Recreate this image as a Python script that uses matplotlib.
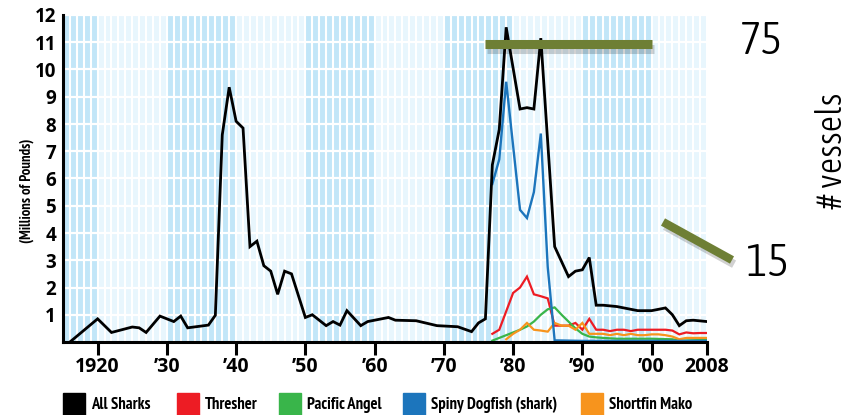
import matplotlib.pyplot as plt
import matplotlib.patheffects as pe
from matplotlib import font_manager
from matplotlib.font_manager import FontProperties
from matplotlib.patches import Rectangle
from matplotlib.lines import Line2D

fonts = font_manager.fontManager.ttflist
names = {f.name for f in fonts}
def pick(*fams):
    for f in fams:
        if f in names:
            return f
    return 'DejaVu Sans'

def wt(f):
    if isinstance(f.weight, int):
        return f.weight
    return font_manager.weight_dict.get(f.weight, 400)

# narrow faces (Arial Narrow like), picked by file so weight is exact
def narrow_face(target, size):
    cands = []
    for f in fonts:
        n = f.name + ' ' + f.fname
        if f.style != 'normal' or 'Extra' in n or 'Ultra' in n:
            continue
        if 'Narrow' in n or 'Condensed' in n or f.stretch in ('condensed', 'semi-condensed'):
            semi = 1 if ('Semi' in n or f.stretch == 'semi-condensed') else 0
            cands.append((abs(wt(f) - target), 0 if 'Narrow' in n else 1, semi, f.fname))
    if not cands:
        return FontProperties(family=pick('Liberation Sans'), weight=target, size=size * 0.88)
    cands.sort()
    return FontProperties(fname=cands[0][3], size=size)

boldf = pick('Open Sans', 'Lato', 'DejaVu Sans')

# ---- data (millions of pounds)
all_years = [1916, 1920, 1922, 1925, 1926, 1927, 1929, 1931, 1932, 1933, 1936, 1937, 1938, 1939,
             1940, 1941, 1942, 1943, 1944, 1945, 1946, 1947, 1948, 1950, 1951, 1953, 1954, 1955,
             1956, 1958, 1959, 1962, 1963, 1966, 1969, 1972, 1974, 1975, 1976, 1977, 1978, 1979,
             1981, 1982, 1983, 1984, 1986, 1988, 1989, 1990, 1991, 1992, 1993, 1995, 1998, 2000,
             2002, 2003, 2004, 2005, 2006, 2008]
all_sharks = [0.0, 0.85, 0.35, 0.55, 0.52, 0.35, 0.95, 0.75, 0.95, 0.52, 0.62, 0.98, 7.6, 9.35,
              8.1, 7.85, 3.5, 3.7, 2.8, 2.6, 1.75, 2.6, 2.5, 0.9, 1.0, 0.6, 0.75, 0.62,
              1.15, 0.6, 0.75, 0.9, 0.8, 0.78, 0.6, 0.56, 0.38, 0.7, 0.85, 6.5, 7.8, 11.55,
              8.55, 8.6, 8.55, 11.15, 3.5, 2.4, 2.6, 2.65, 3.1, 1.35, 1.35, 1.3, 1.15, 1.15,
              1.25, 1.0, 0.6, 0.78, 0.8, 0.75]

dog_years = [1977, 1978, 1979, 1981, 1982, 1983, 1984, 1985, 1986, 1990, 2000, 2008]
dogfish = [5.8, 6.7, 9.55, 4.85, 4.55, 5.5, 7.65, 2.75, 0.06, 0.04, 0.04, 0.04]

thr_years = [1977, 1978, 1980, 1981, 1982, 1983, 1984, 1985, 1986, 1987, 1988, 1989, 1990,
             1991, 1992, 1993, 1994, 1995, 1996, 1997, 1998, 1999, 2000, 2001, 2002, 2003,
             2004, 2005, 2006, 2007, 2008]
thresher = [0.3, 0.45, 1.8, 2.0, 2.4, 1.75, 1.68, 1.6, 0.6, 0.6, 0.6, 0.7, 0.45,
            0.85, 0.45, 0.45, 0.4, 0.45, 0.45, 0.4, 0.45, 0.45, 0.45, 0.45, 0.45, 0.42,
            0.28, 0.35, 0.32, 0.33, 0.33]

ang_years = [1977, 1978, 1979, 1980, 1981, 1982, 1983, 1984, 1985, 1986, 1987, 1988, 1989,
             1990, 1991, 1992, 1993, 1995, 2000, 2003, 2004, 2008]
angel = [0.05, 0.15, 0.25, 0.35, 0.45, 0.57, 0.75, 1.0, 1.2, 1.27, 1.0, 0.75, 0.5,
         0.3, 0.2, 0.17, 0.15, 0.12, 0.12, 0.1, 0.05, 0.08]

mako_years = [1979, 1980, 1981, 1982, 1983, 1984, 1985, 1986, 1987, 1988, 1989, 1990, 1991,
              1992, 1993, 1994, 1995, 1996, 1997, 1998, 1999, 2000, 2001, 2002, 2003, 2004,
              2005, 2006, 2007, 2008]
mako = [0.1, 0.3, 0.45, 0.7, 0.45, 0.42, 0.38, 0.7, 0.6, 0.6, 0.45, 0.7, 0.3,
        0.3, 0.3, 0.25, 0.3, 0.25, 0.3, 0.25, 0.25, 0.28, 0.28, 0.25, 0.2, 0.1,
        0.15, 0.15, 0.15, 0.15]

series_names = ['All Sharks', 'Thresher', 'Pacific Angel', 'Spiny Dogfish (shark)', 'Shortfin Mako']
series_colors = ['#000000', '#ed1c24', '#39b54a', '#1c75bc', '#f7941d']

tick_years = [1920, 1930, 1940, 1950, 1960, 1970, 1980, 1990, 2000, 2008]
tick_labels = ['1920', '\u201930', '\u201940', '\u201950', '\u201960', '\u201970', '\u201980',
               '\u201990', '\u201900', '2008']

# vessel markers
vessels_hi = 75
vessels_lo = 15
bar_years = [1975.9, 2000.1]
bar_level = 10.92

# ---------------------------------------------------------------
fig = plt.figure(figsize=(8.56, 4.15), dpi=100)
ax = fig.add_axes([63 / 856, 73 / 415, 644 / 856, 327 / 415])
ax.set_xlim(1915, 2008)
ax.set_ylim(0, 12)

# banded blue background
dark = '#c2e6f8'
light = '#e8f6fd'
edges = [1915, 1920, 1930, 1940, 1950, 1960, 1970, 1980, 1990, 2000, 2008]
for i in range(len(edges) - 1):
    ax.axvspan(edges[i], edges[i + 1], color=dark if i % 2 == 0 else light, lw=0, zorder=0)

ax.set_axisbelow(True)
ax.set_xticks(range(1915, 2009), minor=True)
ax.grid(which='minor', axis='x', color='white', lw=1.5)
ax.grid(which='major', axis='x', color='white', lw=1.5)
ax.grid(which='major', axis='y', color='white', lw=1.6)

# series
ax.plot(thr_years, thresher, color=series_colors[1], lw=1.6, solid_joinstyle='miter', zorder=3)
ax.plot(ang_years, angel, color=series_colors[2], lw=1.6, solid_joinstyle='miter', zorder=3)
ax.plot(mako_years, mako, color=series_colors[4], lw=1.6, solid_joinstyle='miter', zorder=3)
ax.plot(dog_years, dogfish, color=series_colors[3], lw=1.7, solid_joinstyle='miter', zorder=3)
ax.plot(all_years, all_sharks, color=series_colors[0], lw=2.0, solid_joinstyle='miter', zorder=4)

# olive vessel bar with shadow
olive = '#6e7f35'
shadow = [pe.SimpleLineShadow(offset=(1.5, -3), shadow_color='k', alpha=0.18), pe.Normal()]
ax.plot(bar_years, [bar_level, bar_level], color=olive, lw=6.5, solid_capstyle='butt',
        zorder=6, path_effects=shadow)

fig.add_artist(Line2D([663 / 856, 732 / 856], [1 - 222 / 415, 1 - 260 / 415], color=olive,
                      lw=6, solid_capstyle='butt', path_effects=shadow))

# axes styling
for s in ['top', 'right']:
    ax.spines[s].set_visible(False)
for s in ['left', 'bottom']:
    ax.spines[s].set_linewidth(2.2)
    ax.spines[s].set_zorder(7)

ax.set_yticks(range(1, 13))
ax.set_yticklabels([str(v) for v in range(1, 13)], fontsize=13.5, fontweight='bold', family=boldf)
ax.tick_params(axis='y', length=0, pad=5)
ax.set_xticks(tick_years)
ax.set_xticklabels(tick_labels, fontsize=14, fontweight='bold', family=boldf)
ax.tick_params(axis='x', which='major', length=9.5, width=2.2, pad=1.5)
ax.tick_params(axis='x', which='minor', length=0)

big_fp = narrow_face(300, 33)
ves_fp = narrow_face(300, 26)
ylab_fp = narrow_face(700, 10.5)
leg_fp = narrow_face(700, 12)

fig.text(27 / 856, 1 - 191 / 415, '(Millions of Pounds)', rotation=90, ha='center', va='center',
         fontproperties=ylab_fp)

fig.text(761 / 856, 1 - 42 / 415, str(vessels_hi), ha='center', va='center', fontproperties=big_fp)
fig.text(767 / 856, 1 - 263 / 415, str(vessels_lo), ha='center', va='center', fontproperties=big_fp)
fig.text(832 / 856, 1 - 151 / 415, '# vessels', rotation=90, ha='center', va='center',
         fontproperties=ves_fp)

# legend along the bottom
sq_x = [63, 177, 279, 403, 581]
for x0, name, col in zip(sq_x, series_names, series_colors):
    fig.add_artist(Rectangle((x0 / 856, 0), 22 / 856, 22 / 415, color=col, transform=fig.transFigure))
    fig.text((x0 + 28) / 856, 1 - 405 / 415, name, ha='left', va='center', fontproperties=leg_fp)

fig.savefig('out.png', dpi=100)
